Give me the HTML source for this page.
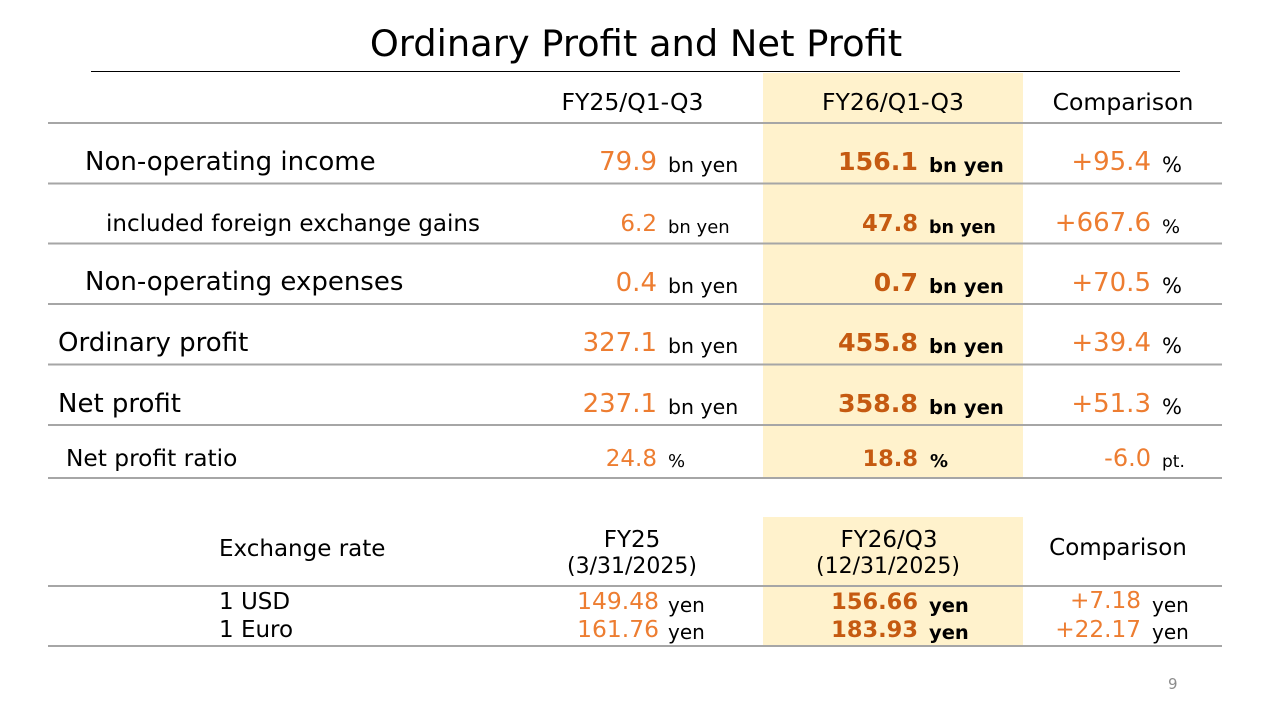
<!DOCTYPE html>
<html><head><meta charset="utf-8"><style>
html,body{margin:0;padding:0;background:#fff;}
svg{display:block;}
text{font-family:"DejaVu Sans","Liberation Sans",sans-serif;}
.o{fill:#ED7D31;}
.d{fill:#C55A11;font-weight:bold;}
.k{fill:#000;}
.b{font-weight:bold;}
</style></head><body>
<svg width="1273" height="712" viewBox="0 0 1273 712" xmlns="http://www.w3.org/2000/svg">
<rect width="1273" height="712" fill="#fff"/>
<rect x="763" y="73" width="260" height="405" fill="#FFF2CC"/>
<rect x="763" y="517" width="260" height="129" fill="#FFF2CC"/>
<text x="636" y="56" font-size="36.8" text-anchor="middle" class="k">Ordinary Profit and Net Profit</text>
<line x1="91" y1="71.5" x2="1180" y2="71.5" stroke="#000" stroke-width="1"/>
<g stroke="#A6A6A6" stroke-width="2">
<line x1="48" y1="123" x2="1222" y2="123"/>
<line x1="48" y1="183.5" x2="1222" y2="183.5"/>
<line x1="48" y1="243.5" x2="1222" y2="243.5"/>
<line x1="48" y1="304" x2="1222" y2="304"/>
<line x1="48" y1="364.5" x2="1222" y2="364.5"/>
<line x1="48" y1="425" x2="1222" y2="425"/>
<line x1="48" y1="478" x2="1222" y2="478"/>
<line x1="48" y1="586" x2="1222" y2="586"/>
<line x1="48" y1="646" x2="1222" y2="646"/>
</g>
<g font-size="23.5" class="k" text-anchor="middle">
<text x="632.5" y="110">FY25/Q1-Q3</text>
<text x="893" y="110">FY26/Q1-Q3</text>
<text x="1123" y="110">Comparison</text>
</g>
<!-- Row 1 -->
<text x="85" y="170" font-size="26" class="k">Non-operating income</text>
<text x="657" y="170" font-size="26" class="o" text-anchor="end">79.9</text>
<text x="668" y="172" font-size="20.5" class="k">bn yen</text>
<text x="918" y="170" font-size="25.3" class="d" text-anchor="end">156.1</text>
<text x="929" y="172" font-size="19.6" class="k b">bn yen</text>
<text x="1151" y="170" font-size="26" class="o" text-anchor="end">+95.4</text>
<text x="1162" y="172" font-size="21" class="k">%</text>
<!-- Row 2 -->
<text x="106" y="231" font-size="23" class="k">included foreign exchange gains</text>
<text x="657" y="231" font-size="23" class="o" text-anchor="end">6.2</text>
<text x="668" y="233" font-size="18" class="k">bn yen</text>
<text x="918" y="231" font-size="22.7" class="d" text-anchor="end">47.8</text>
<text x="929" y="233" font-size="17.5" class="k b">bn yen</text>
<text x="1151" y="231" font-size="26" class="o" text-anchor="end">+667.6</text>
<text x="1162" y="233" font-size="19" class="k">%</text>
<!-- Row 3 -->
<text x="85" y="290" font-size="26" class="k">Non-operating expenses</text>
<text x="657" y="291" font-size="26" class="o" text-anchor="end">0.4</text>
<text x="668" y="293" font-size="20.5" class="k">bn yen</text>
<text x="918" y="291" font-size="25" class="d" text-anchor="end">0.7</text>
<text x="929" y="293" font-size="19.6" class="k b">bn yen</text>
<text x="1151" y="291" font-size="26" class="o" text-anchor="end">+70.5</text>
<text x="1162" y="293" font-size="21" class="k">%</text>
<!-- Row 4 -->
<text x="58" y="351" font-size="26" class="k">Ordinary profit</text>
<text x="657" y="351" font-size="26" class="o" text-anchor="end">327.1</text>
<text x="668" y="353" font-size="20.5" class="k">bn yen</text>
<text x="918" y="351" font-size="25.3" class="d" text-anchor="end">455.8</text>
<text x="929" y="353" font-size="19.6" class="k b">bn yen</text>
<text x="1151" y="351" font-size="26" class="o" text-anchor="end">+39.4</text>
<text x="1162" y="353" font-size="21" class="k">%</text>
<!-- Row 5 -->
<text x="58" y="412" font-size="26" class="k">Net profit</text>
<text x="657" y="412" font-size="26" class="o" text-anchor="end">237.1</text>
<text x="668" y="414" font-size="20.5" class="k">bn yen</text>
<text x="918" y="412" font-size="25.3" class="d" text-anchor="end">358.8</text>
<text x="929" y="414" font-size="19.6" class="k b">bn yen</text>
<text x="1151" y="412" font-size="26" class="o" text-anchor="end">+51.3</text>
<text x="1162" y="414" font-size="21" class="k">%</text>
<!-- Row 6 -->
<text x="66" y="466" font-size="23.3" class="k">Net profit ratio</text>
<text x="657" y="466" font-size="23" class="o" text-anchor="end">24.8</text>
<text x="668" y="467" font-size="18" class="k">%</text>
<text x="918" y="466" font-size="22.5" class="d" text-anchor="end">18.8</text>
<text x="930" y="467" font-size="18" class="k b">%</text>
<text x="1151" y="466" font-size="24" class="o" text-anchor="end">-6.0</text>
<text x="1162" y="467" font-size="17" class="k">pt.</text>
<!-- Exchange header -->
<text x="219" y="556" font-size="23" class="k">Exchange rate</text>
<text x="632" y="547" font-size="23" class="k" text-anchor="middle">FY25</text>
<text x="632" y="573" font-size="22" class="k" text-anchor="middle">(3/31/2025)</text>
<text x="889" y="547" font-size="23" class="k" text-anchor="middle">FY26/Q3</text>
<text x="888" y="573" font-size="22" class="k" text-anchor="middle">(12/31/2025)</text>
<text x="1118" y="555" font-size="23" class="k" text-anchor="middle">Comparison</text>
<!-- Exchange rows -->
<text x="219" y="609" font-size="23" class="k">1 USD</text>
<text x="219" y="637" font-size="23" class="k">1 Euro</text>
<text x="659" y="609" font-size="23.4" class="o" text-anchor="end">149.48</text>
<text x="668" y="612" font-size="20" class="k">yen</text>
<text x="659" y="637" font-size="23.4" class="o" text-anchor="end">161.76</text>
<text x="668" y="639" font-size="20" class="k">yen</text>
<text x="918" y="609" font-size="22.5" class="d" text-anchor="end">156.66</text>
<text x="929" y="612" font-size="19.5" class="k b">yen</text>
<text x="918" y="637" font-size="22.5" class="d" text-anchor="end">183.93</text>
<text x="929" y="639" font-size="19.5" class="k b">yen</text>
<text x="1141" y="608" font-size="23.2" class="o" text-anchor="end">+7.18</text>
<text x="1152" y="612" font-size="20" class="k">yen</text>
<text x="1141" y="637" font-size="23.2" class="o" text-anchor="end">+22.17</text>
<text x="1152" y="639" font-size="20" class="k">yen</text>
<text x="1168" y="689" font-size="15" fill="#8C8C8C">9</text>
</svg>
</body></html>
